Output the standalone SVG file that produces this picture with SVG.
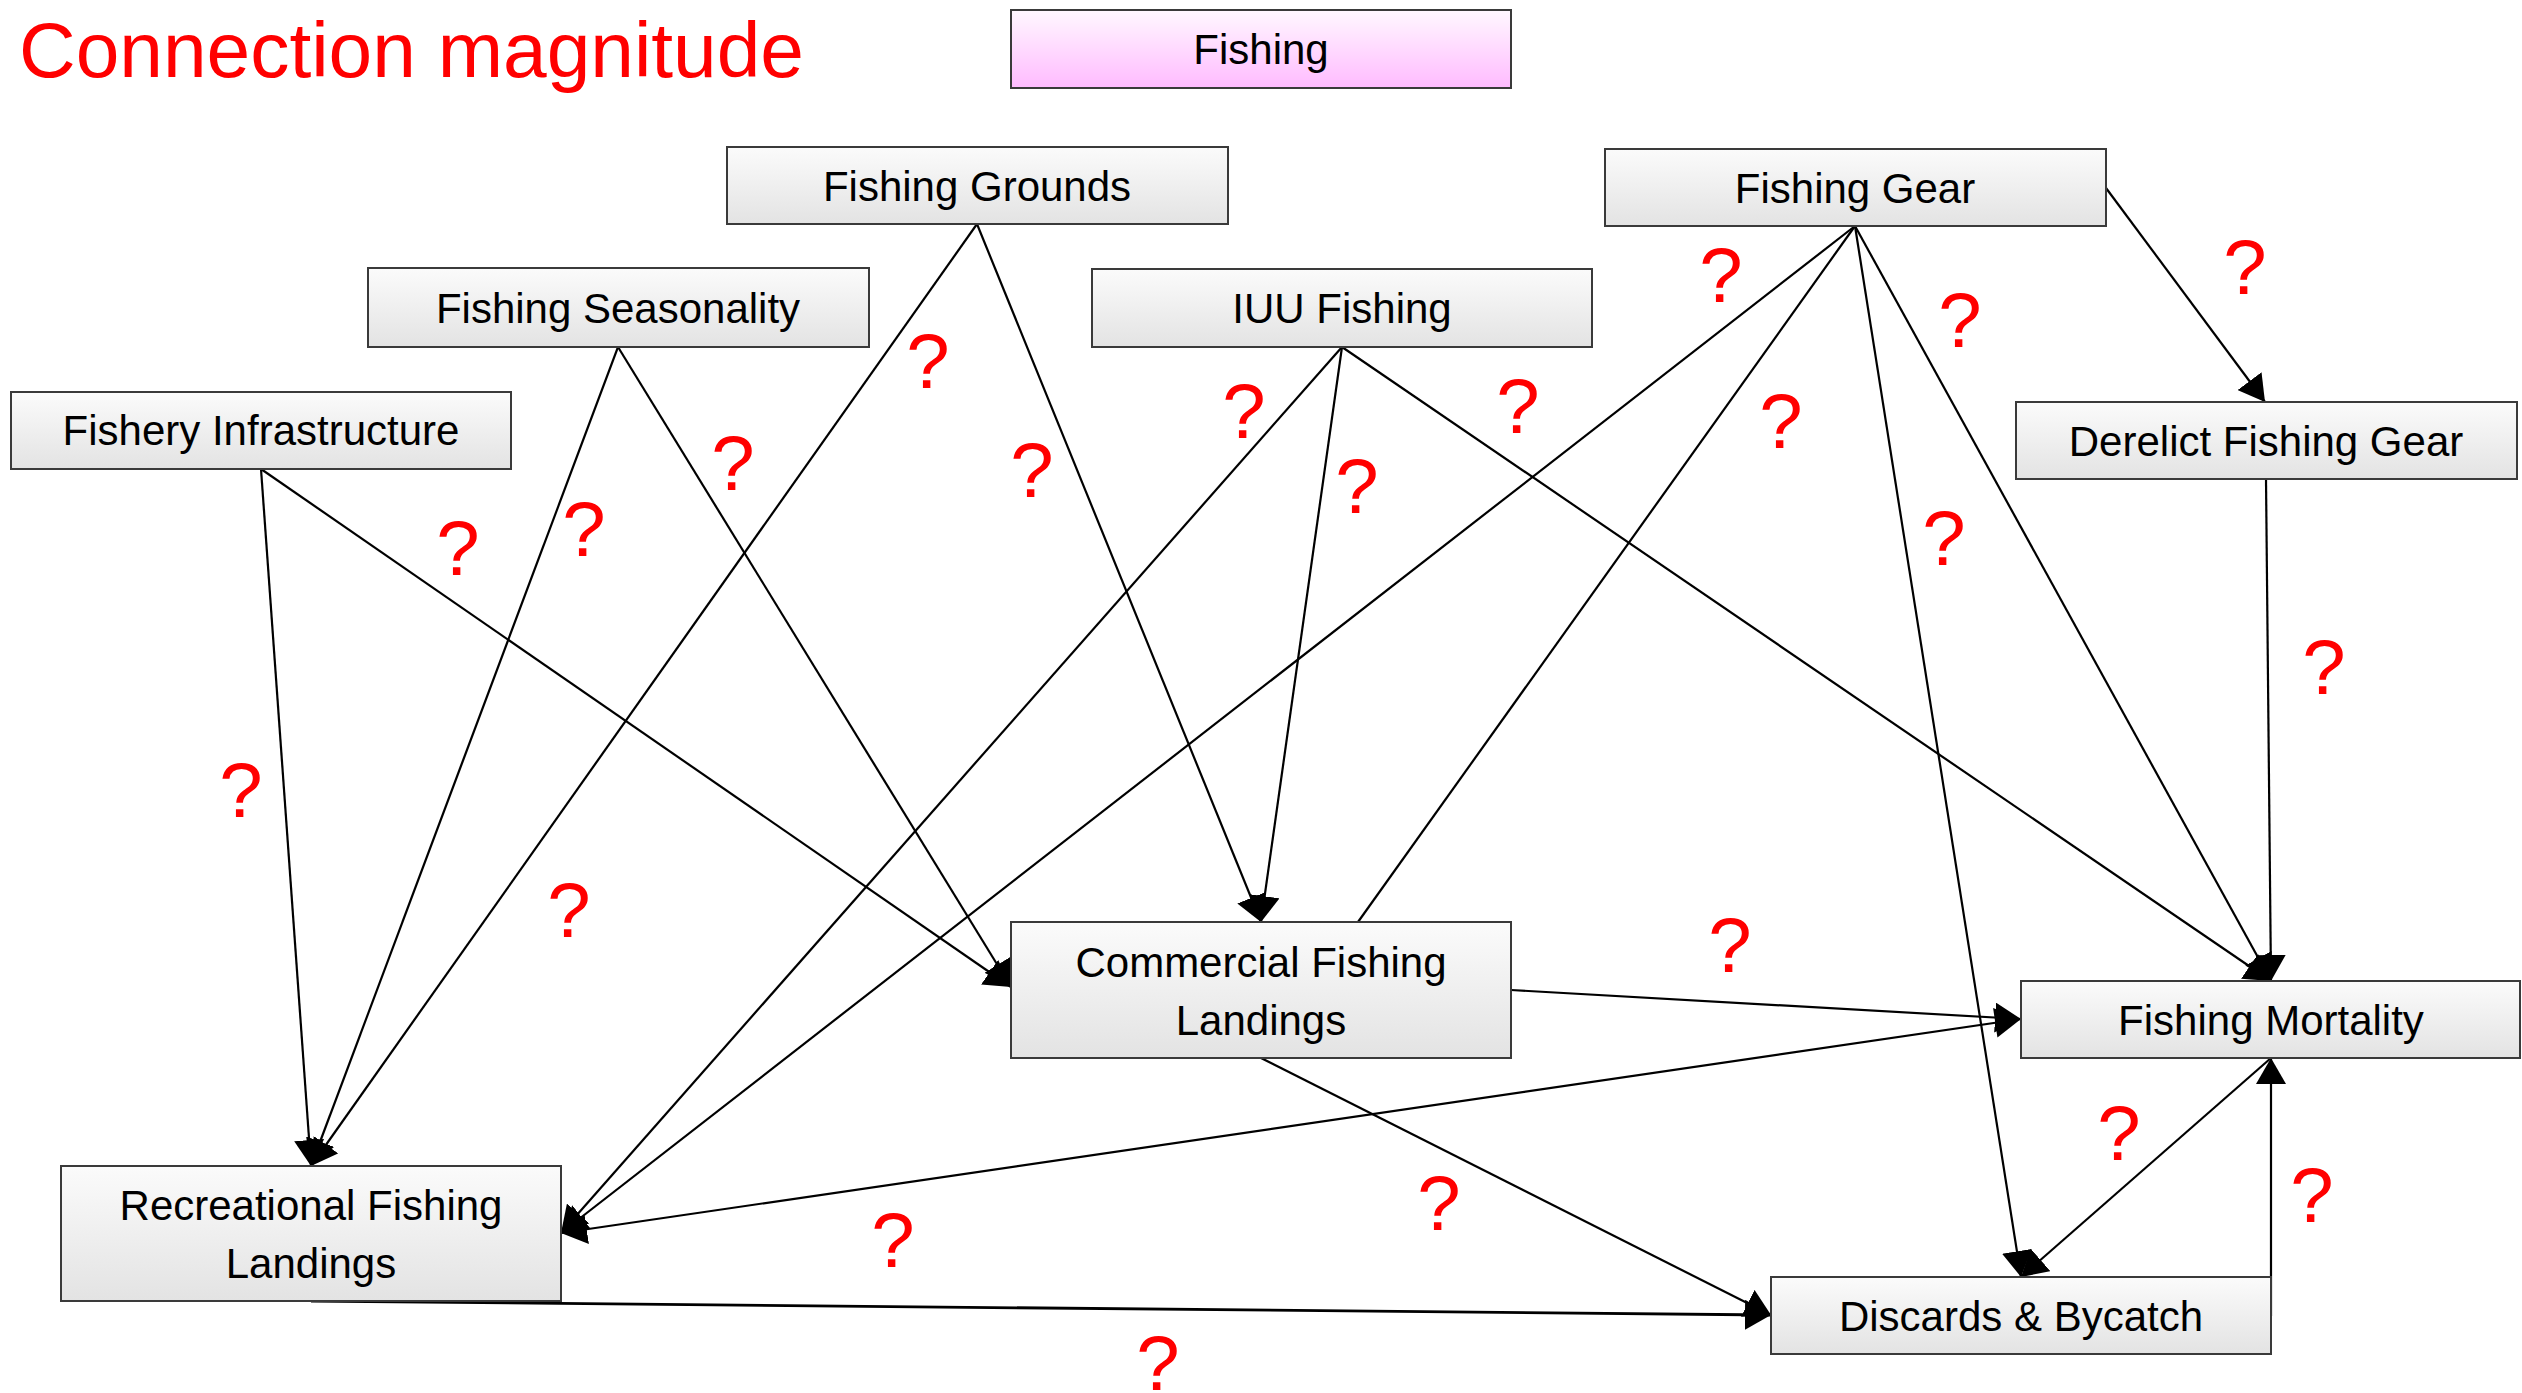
<svg xmlns="http://www.w3.org/2000/svg" width="2522" height="1393" viewBox="0 0 2522 1393">
<defs>
<linearGradient id="gGray" x1="0" y1="0" x2="0" y2="1">
<stop offset="0" stop-color="#FBFBFB"/>
<stop offset="1" stop-color="#E3E3E3"/>
</linearGradient>
<linearGradient id="gPink" x1="0" y1="0" x2="0" y2="1">
<stop offset="0" stop-color="#FFF8FF"/>
<stop offset="1" stop-color="#FFBBFF"/>
</linearGradient>
<marker id="arr" markerUnits="userSpaceOnUse" markerWidth="28" markerHeight="30" refX="26" refY="15" orient="auto">
<path d="M0,0 L26,15 L0,30 z" fill="#000"/>
</marker>
<marker id="arrS" markerUnits="userSpaceOnUse" markerWidth="28" markerHeight="30" refX="0" refY="15" orient="auto">
<path d="M26,0 L0,15 L26,30 z" fill="#000"/>
</marker>
</defs>
<style>
.box{fill:url(#gGray);stroke:#3a3a3a;stroke-width:2}
.pink{fill:url(#gPink);stroke:#3a3a3a;stroke-width:2}
.lbl{font-family:"Liberation Sans",Arial,sans-serif;font-size:42px;fill:#000;text-anchor:middle}
.q{font-family:"Liberation Sans",Arial,sans-serif;font-size:78px;fill:#FF0000;text-anchor:middle}
.title{font-family:"Liberation Sans",Arial,sans-serif;font-size:78px;fill:#FF0000}
.c line{stroke:#000;stroke-width:2.2;fill:none}
.c line.a{marker-end:url(#arr)}
.c line.b{marker-end:url(#arr);marker-start:url(#arrS)}
</style>
<rect width="2522" height="1393" fill="#fff"/>
<text class="title" x="19" y="77" textLength="785" lengthAdjust="spacingAndGlyphs">Connection magnitude</text>

<g id="connectors" class="c">
<line class="a" x1="261" y1="469" x2="311" y2="1166"/>
<line class="a" x1="261" y1="469" x2="1011" y2="987"/>
<line class="a" x1="618" y1="347" x2="311" y2="1166"/>
<line class="a" x1="618" y1="347" x2="1011" y2="987"/>
<line class="a" x1="977" y1="224" x2="311" y2="1166"/>
<line class="a" x1="977" y1="224" x2="1261" y2="922"/>
<line class="a" x1="1342" y1="347" x2="1261" y2="922"/>
<line class="a" x1="1342" y1="347" x2="561" y2="1233"/>
<line class="a" x1="1342" y1="347" x2="2271" y2="981"/>
<line class="a" x1="1855" y1="226" x2="561" y2="1233"/>
<line x1="1855" y1="226" x2="1358" y2="922"/>
<line class="a" x1="1855" y1="226" x2="2021" y2="1277"/>
<line class="a" x1="1855" y1="226" x2="2271" y2="981"/>
<line class="a" x1="2106" y1="188" x2="2265" y2="402"/>
<line class="a" x1="2266" y1="479" x2="2271" y2="981"/>
<line class="a" x1="1511" y1="990" x2="2021" y2="1019"/>
<line class="b" x1="2021" y1="1019" x2="561" y2="1233"/>
<line class="a" x1="1261" y1="1058" x2="1771" y2="1315"/>
<line class="a" x1="311" y1="1301" x2="1771" y2="1315" style="stroke-width:2.8"/>
<line class="a" x1="2271" y1="1058" x2="2021" y2="1277"/>
<line class="a" x1="2271" y1="1316" x2="2271" y2="1058"/>
</g>

<g id="node-fishing"><rect class="pink" x="1011" y="10" width="500" height="78"/><text class="lbl" x="1261" y="64">Fishing</text></g>
<g id="node-fishing-grounds"><rect class="box" x="727" y="147" width="501" height="77"/><text class="lbl" x="977" y="201">Fishing Grounds</text></g>
<g id="node-fishing-gear"><rect class="box" x="1605" y="149" width="501" height="77"/><text class="lbl" x="1855" y="203">Fishing Gear</text></g>
<g id="node-fishing-seasonality"><rect class="box" x="368" y="268" width="501" height="79"/><text class="lbl" x="618" y="323">Fishing Seasonality</text></g>
<g id="node-iuu-fishing"><rect class="box" x="1092" y="269" width="500" height="78"/><text class="lbl" x="1342" y="323">IUU Fishing</text></g>
<g id="node-fishery-infrastructure"><rect class="box" x="11" y="392" width="500" height="77"/><text class="lbl" x="261" y="445">Fishery Infrastructure</text></g>
<g id="node-derelict-fishing-gear"><rect class="box" x="2016" y="402" width="501" height="77"/><text class="lbl" x="2266" y="456">Derelict Fishing Gear</text></g>
<g id="node-commercial-fishing-landings"><rect class="box" x="1011" y="922" width="500" height="136"/><text class="lbl" x="1261" y="977">Commercial Fishing</text><text class="lbl" x="1261" y="1035">Landings</text></g>
<g id="node-fishing-mortality"><rect class="box" x="2021" y="981" width="499" height="77"/><text class="lbl" x="2271" y="1035">Fishing Mortality</text></g>
<g id="node-recreational-fishing-landings"><rect class="box" x="61" y="1166" width="500" height="135"/><text class="lbl" x="311" y="1220">Recreational Fishing</text><text class="lbl" x="311" y="1278">Landings</text></g>
<g id="node-discards-bycatch"><rect class="box" x="1771" y="1277" width="500" height="77"/><text class="lbl" x="2021" y="1331">Discards &amp; Bycatch</text></g>

<g id="labels">
<text class="q" x="1721" y="302">?</text>
<text class="q" x="2245" y="294">?</text>
<text class="q" x="1960" y="347">?</text>
<text class="q" x="928" y="388">?</text>
<text class="q" x="1244" y="438">?</text>
<text class="q" x="1518" y="433">?</text>
<text class="q" x="1781" y="448">?</text>
<text class="q" x="733" y="490">?</text>
<text class="q" x="1032" y="497">?</text>
<text class="q" x="1357" y="513">?</text>
<text class="q" x="458" y="575">?</text>
<text class="q" x="584" y="556">?</text>
<text class="q" x="1944" y="565">?</text>
<text class="q" x="2324" y="694">?</text>
<text class="q" x="241" y="817">?</text>
<text class="q" x="569" y="937">?</text>
<text class="q" x="1730" y="972">?</text>
<text class="q" x="2119" y="1160">?</text>
<text class="q" x="2312" y="1222">?</text>
<text class="q" x="1439" y="1230">?</text>
<text class="q" x="893" y="1267">?</text>
<text class="q" x="1158" y="1390">?</text>
</g>
</svg>
